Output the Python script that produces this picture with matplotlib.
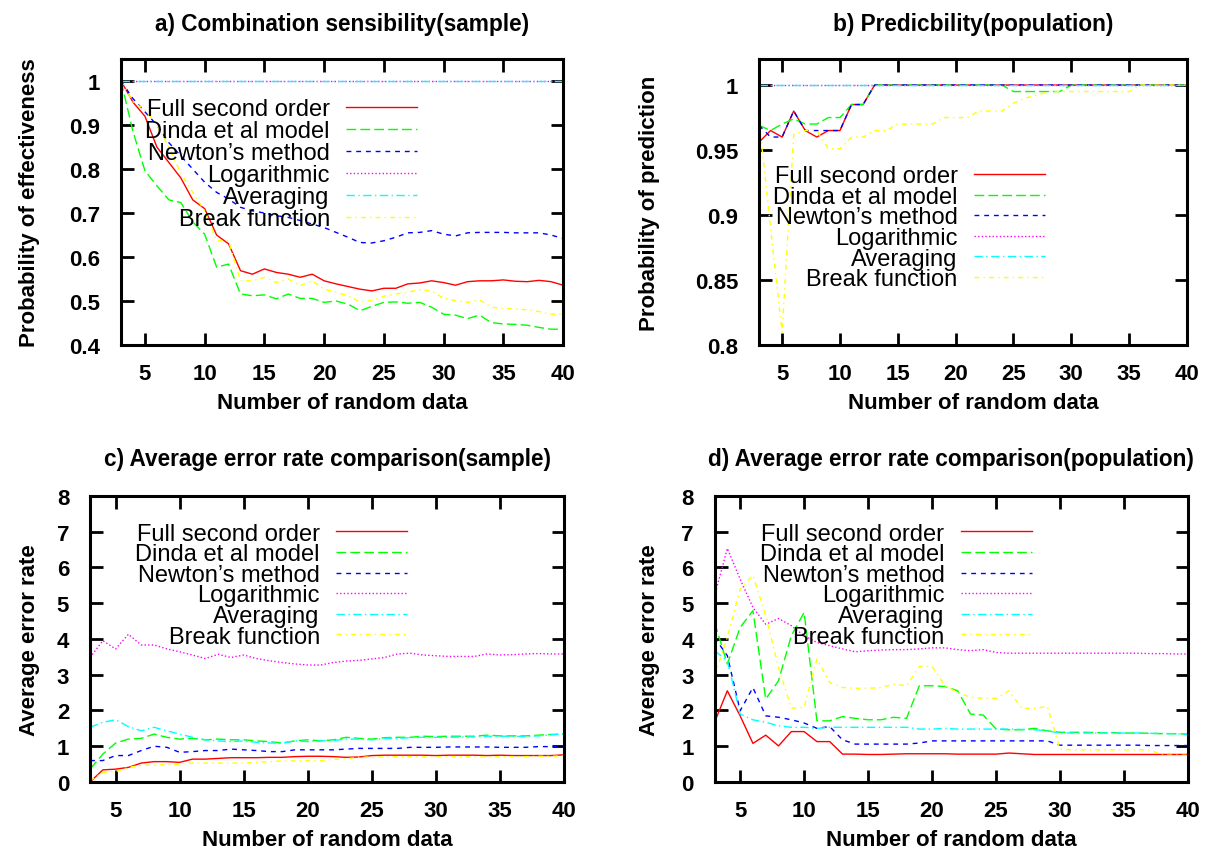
import numpy as np
import matplotlib
matplotlib.use('Agg')
import matplotlib.pyplot as plt
from matplotlib.ticker import FuncFormatter

plt.rcParams['font.family'] = ['Liberation Sans', 'DejaVu Sans']

n_points = list(range(3, 41))
labels = ['Full second order', 'Dinda et al model', 'Newton\u2019s method',
          'Logarithmic', 'Averaging', 'Break function']

## --------------------------- a) sensibility, sample --------------------------------------

a_full = [1.0, 0.952, 0.92, 0.85, 0.815, 0.78, 0.73, 0.71, 0.65, 0.63, 0.569, 0.561, 0.573,
          0.565, 0.561, 0.554, 0.561, 0.546, 0.539, 0.533, 0.527, 0.523, 0.529, 0.529, 0.539,
          0.541, 0.546, 0.542, 0.536, 0.544, 0.546, 0.546, 0.548, 0.545, 0.544, 0.547, 0.544, 0.536]
a_dinda = [1.0, 0.885, 0.796, 0.762, 0.73, 0.724, 0.68, 0.652, 0.577, 0.584, 0.516, 0.512, 0.514,
           0.505, 0.516, 0.506, 0.506, 0.497, 0.5, 0.493, 0.478, 0.488, 0.497, 0.498, 0.495,
           0.497, 0.486, 0.47, 0.468, 0.46, 0.468, 0.451, 0.448, 0.447, 0.445, 0.44, 0.436, 0.436]
a_newton = [1.0, 0.96, 0.93, 0.9, 0.86, 0.83, 0.8, 0.77, 0.747, 0.732, 0.713, 0.705, 0.7,
            0.694, 0.69, 0.683, 0.675, 0.667, 0.656, 0.645, 0.633, 0.632, 0.637, 0.645, 0.655,
            0.656, 0.66, 0.652, 0.648, 0.655, 0.656, 0.656, 0.656, 0.655, 0.655, 0.655, 0.65, 0.642]
a_log = [1.0] * 38
a_avg = [1.0] * 38
a_break = [1.0, 0.952, 0.935, 0.9, 0.85, 0.79, 0.747, 0.705, 0.637, 0.637, 0.546, 0.546, 0.554,
           0.542, 0.55, 0.535, 0.546, 0.527, 0.52, 0.512, 0.498, 0.501, 0.511, 0.516, 0.52,
           0.526, 0.523, 0.506, 0.501, 0.497, 0.503, 0.486, 0.483, 0.482, 0.48, 0.476, 0.47, 0.47]

## --------------------------- b) predictability, population --------------------------------------

b_full = [0.956, 0.965, 0.96, 0.98, 0.965, 0.96, 0.965, 0.965, 0.985, 0.985] + [1.0] * 28
b_dinda = ([0.969, 0.965, 0.97, 0.974, 0.97, 0.97, 0.975, 0.975, 0.985, 0.985] + [1.0] * 12
           + [0.995] * 5 + [1.0] * 11)
b_newton = [0.969, 0.96, 0.96, 0.98, 0.965, 0.965, 0.965, 0.965, 0.985, 0.985] + [1.0] * 28
b_log = [1.0] * 38
b_avg = [1.0] * 38
b_break = ([0.974, 0.89, 0.81, 0.962, 0.965, 0.965, 0.951, 0.951, 0.96, 0.96, 0.965, 0.965,
            0.97, 0.97, 0.97, 0.97, 0.975, 0.975, 0.975, 0.98, 0.98, 0.98, 0.986, 0.99, 0.992]
           + [0.995] * 8 + [1.0] * 5)

## --------------------------- c) error rate, sample --------------------------------------

c_full = [0.0, 0.34, 0.36, 0.41, 0.53, 0.57, 0.57, 0.55, 0.64, 0.64, 0.66, 0.68, 0.68, 0.68,
          0.69, 0.69, 0.71, 0.72, 0.72, 0.71, 0.69, 0.7, 0.74, 0.75, 0.75, 0.75, 0.75, 0.74,
          0.75, 0.75, 0.75, 0.74, 0.75, 0.74, 0.74, 0.74, 0.74, 0.76]
c_dinda = [0.36, 0.78, 1.09, 1.2, 1.22, 1.34, 1.25, 1.2, 1.22, 1.18, 1.2, 1.18, 1.18, 1.15,
           1.13, 1.09, 1.15, 1.18, 1.15, 1.18, 1.25, 1.22, 1.2, 1.24, 1.25, 1.25, 1.28, 1.27,
           1.28, 1.28, 1.28, 1.31, 1.29, 1.29, 1.29, 1.31, 1.33, 1.34]
c_newton = [0.6, 0.6, 0.74, 0.74, 0.88, 1.0, 0.97, 0.83, 0.85, 0.88, 0.88, 0.92, 0.9, 0.88,
            0.85, 0.85, 0.9, 0.9, 0.9, 0.9, 0.92, 0.94, 0.94, 0.94, 0.94, 0.97, 0.97, 0.97,
            0.98, 0.98, 0.98, 0.98, 0.97, 0.97, 0.97, 0.99, 0.99, 1.0]
c_log = [3.48, 3.95, 3.72, 4.13, 3.83, 3.83, 3.72, 3.64, 3.55, 3.45, 3.57, 3.48, 3.55, 3.45,
         3.39, 3.34, 3.3, 3.27, 3.27, 3.34, 3.38, 3.4, 3.44, 3.48, 3.58, 3.6, 3.55, 3.53,
         3.51, 3.51, 3.51, 3.58, 3.55, 3.56, 3.58, 3.59, 3.58, 3.58]
c_avg = [1.53, 1.67, 1.74, 1.55, 1.43, 1.53, 1.43, 1.34, 1.25, 1.18, 1.15, 1.13, 1.15, 1.11,
         1.09, 1.09, 1.15, 1.13, 1.15, 1.16, 1.2, 1.2, 1.18, 1.22, 1.22, 1.24, 1.25, 1.25,
         1.25, 1.26, 1.26, 1.28, 1.28, 1.28, 1.27, 1.29, 1.32, 1.34]
c_break = [0.04, 0.27, 0.29, 0.41, 0.47, 0.47, 0.49, 0.5, 0.53, 0.53, 0.53, 0.53, 0.53, 0.55,
           0.57, 0.59, 0.59, 0.6, 0.6, 0.63, 0.65, 0.69, 0.7, 0.7, 0.71, 0.71, 0.7, 0.7,
           0.71, 0.71, 0.7, 0.7, 0.71, 0.71, 0.71, 0.72, 0.72, 0.73]

## --------------------------- d) error rate, population --------------------------------------

d_full = [1.67, 2.55, 1.85, 1.08, 1.31, 1.01, 1.41, 1.41, 1.13, 1.13, 0.78, 0.78, 0.77, 0.77,
          0.78, 0.79, 0.79, 0.79, 0.79, 0.78, 0.78, 0.78, 0.78, 0.81, 0.79, 0.77, 0.77, 0.77,
          0.77, 0.77, 0.77, 0.77, 0.77, 0.77, 0.77, 0.77, 0.77, 0.77]
d_dinda = [4.46, 3.3, 4.32, 4.79, 2.32, 2.83, 4.09, 4.74, 1.71, 1.71, 1.83, 1.78, 1.74, 1.74,
           1.81, 1.78, 2.69, 2.69, 2.67, 2.55, 1.9, 1.87, 1.48, 1.46, 1.46, 1.5, 1.43, 1.39,
           1.39, 1.39, 1.38, 1.38, 1.37, 1.37, 1.36, 1.35, 1.35, 1.34]
d_newton = [4.04, 3.53, 1.99, 2.64, 1.85, 1.81, 1.74, 1.65, 1.5, 1.55, 1.18, 1.06, 1.06, 1.06,
            1.06, 1.06, 1.09, 1.15, 1.15, 1.15, 1.15, 1.15, 1.15, 1.15, 1.15, 1.15, 1.15, 1.03,
            1.03, 1.03, 1.03, 1.03, 1.03, 1.03, 1.02, 1.02, 1.02, 1.02]
d_log = [5.2, 6.53, 5.67, 4.88, 4.41, 4.57, 4.37, 4.09, 3.9, 3.81, 3.72, 3.64, 3.67, 3.69,
         3.7, 3.7, 3.72, 3.75, 3.75, 3.7, 3.67, 3.7, 3.62, 3.6, 3.6, 3.6, 3.6, 3.6,
         3.6, 3.6, 3.6, 3.6, 3.6, 3.6, 3.59, 3.59, 3.58, 3.58]
d_avg = [3.67, 3.39, 1.9, 1.74, 1.67, 1.57, 1.53, 1.53, 1.5, 1.53, 1.53, 1.53, 1.53, 1.53,
         1.53, 1.53, 1.48, 1.48, 1.5, 1.48, 1.48, 1.48, 1.48, 1.48, 1.47, 1.46, 1.43, 1.37,
         1.37, 1.37, 1.37, 1.37, 1.37, 1.37, 1.36, 1.36, 1.35, 1.32]
d_break = [2.97, 4.04, 5.39, 5.78, 4.65, 3.2, 2.06, 2.09, 3.44, 2.78, 2.64, 2.62, 2.62, 2.64,
           2.74, 2.69, 3.23, 3.23, 2.69, 2.5, 2.37, 2.34, 2.34, 2.55, 2.06, 2.06, 2.11, 0.92,
           0.9, 0.9, 0.9, 0.9, 0.9, 0.9, 0.9, 0.75, 0.75, 0.75]

## --------------------------- Styles --------------------------------------

colors = ['#ff0000', '#00ff00', '#0000ff', '#ff00ff', '#00ffff', '#ffff00']
dashes = [None, (7, 3), (3.5, 3.5), (1, 1.6), (6, 2.5, 1, 2.5), (3.5, 3, 1, 3)]


def draw_panel(ax, series, title, ylabel, ylim, yticks, legend_xy, spacing, title_pad, ylabel_x):
    for values, label, color, dash in zip(series, labels, colors, dashes):
        line, = ax.plot(n_points, values, color=color, lw=1.0, label=label)
        if dash is not None:
            line.set_dashes(dash)

    ax.set_xlim(3, 40)
    ax.set_ylim(*ylim)
    ax.set_xticks(range(5, 41, 5))
    ax.set_yticks(yticks)
    fmt = FuncFormatter(lambda v, p: '%g' % round(v, 3))
    ax.yaxis.set_major_formatter(fmt)
    ax.tick_params(direction='in', length=9, width=2, top=True, right=True, labelsize=16)
    ax.tick_params(axis='x', pad=13)
    ax.tick_params(axis='y', pad=15)
    plt.setp(ax.get_xticklabels() + ax.get_yticklabels(), fontweight='bold')
    for s in ax.spines.values():
        s.set_linewidth(2.2)

    ax.set_title(title, fontsize=16.3, fontweight='bold', pad=title_pad)
    ax.set_xlabel('Number of random data', fontsize=16, fontweight='bold')
    ax.set_ylabel(ylabel, fontsize=16, fontweight='bold')
    ax.xaxis.set_label_coords(0.5, -0.165)
    ax.yaxis.set_label_coords(ylabel_x, 0.5)

    ax.legend(loc='center right', bbox_to_anchor=legend_xy, frameon=False, markerfirst=False,
              fontsize=17, handlelength=3.0, handletextpad=0.7, labelspacing=spacing,
              borderpad=0, borderaxespad=0)


fig = plt.figure(figsize=(12.08, 8.54), dpi=100)
ax1 = fig.add_axes([0.1002, 0.5948, 0.3659, 0.3349])
ax2 = fig.add_axes([0.6283, 0.5948, 0.3543, 0.3349])
ax3 = fig.add_axes([0.0745, 0.0831, 0.3924, 0.3352])
ax4 = fig.add_axes([0.5915, 0.0831, 0.3920, 0.3352])

draw_panel(ax1, [a_full, a_dinda, a_newton, a_log, a_avg, a_break],
           'a) Combination sensibility(sample)', 'Probability of effectiveness',
           (0.4, 1.05), np.arange(0.4, 1.01, 0.1), (0.670, 0.633), 0.0, 21, -0.183)
draw_panel(ax2, [b_full, b_dinda, b_newton, b_log, b_avg, b_break],
           'b) Predicbility(population)', 'Probability of prediction',
           (0.8, 1.02), np.arange(0.8, 1.001, 0.05), (0.668, 0.410), -0.06, 21, -0.231)
draw_panel(ax3, [c_full, c_dinda, c_newton, c_log, c_avg, c_break],
           'c) Average error rate comparison(sample)', 'Average error rate',
           (0, 8), range(0, 9), (0.669, 0.688), -0.06, 22, -0.105)
draw_panel(ax4, [d_full, d_dinda, d_newton, d_log, d_avg, d_break],
           'd) Average error rate comparison(population)', 'Average error rate',
           (0, 8), range(0, 9), (0.670, 0.688), -0.06, 22, -0.115)

fig.savefig('out.png', dpi=100)
